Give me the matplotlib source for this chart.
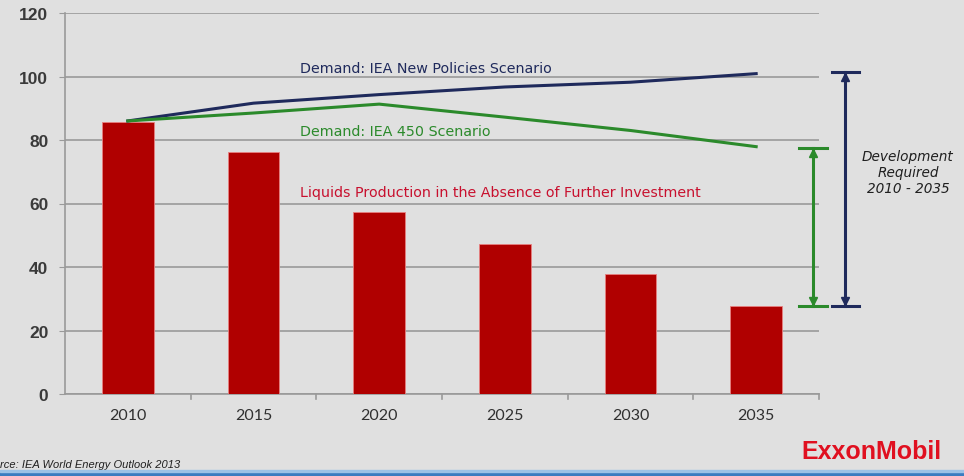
import matplotlib.pyplot as plt
from matplotlib.patches import Rectangle

years = ["2010", "2015", "2020", "2025", "2030", "2035"]
production = [85.7, 76.2, 57.3, 47.2, 37.8, 27.7]
demand_new_policies = [86.0, 91.6, 94.3, 96.7, 98.2, 100.9]
demand_450 = [86.0, 88.5, 91.3, 87.2, 83.0, 77.9]

bg = "#e0e0e0"
red = "#b00000"
navy = "#1f2a5c"
green = "#2b8a2b"

fig = plt.figure(figsize=(9.64, 4.77), dpi=100, facecolor=bg)
ax = fig.add_axes([65 / 964, (477 - 395) / 477, 754 / 964, 381 / 477], facecolor=bg)

x = range(len(years))
ax.bar(x, production, width=0.41, color=red, edgecolor="#e88080", linewidth=0.6, zorder=3)
ax.plot(x, demand_new_policies, color=navy, linewidth=2.2, zorder=4)
ax.plot(x, demand_450, color=green, linewidth=2.2, zorder=4)

ax.set_xlim(-0.5, 5.5)
ax.set_ylim(0, 120)
ax.set_yticks(range(0, 121, 20))
ax.set_xticks(list(x))
ax.set_xticklabels(years)
ax.yaxis.grid(True, color="#9a9a9a", linewidth=1.2, zorder=0)
ax.set_axisbelow(True)

for side in ["top", "right"]:
    ax.spines[side].set_visible(False)
ax.spines["left"].set_color("#9a9a9a")
ax.spines["bottom"].set_color("#9a9a9a")
ax.spines["left"].set_linewidth(1.2)
ax.spines["bottom"].set_linewidth(1.2)

ax.tick_params(axis="y", length=4, color="#9a9a9a", labelsize=12.5, labelcolor="#3a3a3a", pad=8)
ax.tick_params(axis="x", length=0, labelsize=11.5, labelcolor="#303030", pad=10)
for lbl in ax.get_yticklabels():
    lbl.set_fontweight("bold")
    lbl.set_family("Liberation Sans")
for lbl in ax.get_xticklabels():
    lbl.set_family("Lato")

# category boundary ticks below the x axis
for b in range(1, 7):
    ax.plot([b - 0.5, b - 0.5], [0, -1.6], color="#9a9a9a", linewidth=1.2, clip_on=False)

ax.text(1.37, 102.6, "Demand: IEA New Policies Scenario", color=navy, fontsize=10.3,
        family="DejaVu Sans", va="center")
ax.text(1.37, 82.8, "Demand: IEA 450 Scenario", color=green, fontsize=10.3,
        family="DejaVu Sans", va="center")
ax.text(1.37, 63.6, "Liquids Production in the Absence of Further Investment", color="#c8102e",
        fontsize=10.3, family="DejaVu Sans", va="center")


# development required brackets: vertical span with caps and inward arrowheads
def bracket(xpos, y0, y1, color):
    cap = 0.11
    kw = dict(color=color, linewidth=2.2, clip_on=False, zorder=5)
    ax.plot([xpos, xpos], [y0, y1], **kw)
    ax.plot([xpos - cap, xpos + cap], [y0, y0], **kw)
    ax.plot([xpos - cap, xpos + cap], [y1, y1], **kw)
    ax.plot([xpos], [y1 - 1.6], marker="^", markersize=6, color=color, clip_on=False, zorder=5)
    ax.plot([xpos], [y0 + 1.6], marker="v", markersize=6, color=color, clip_on=False, zorder=5)


bracket(5.45, production[-1], demand_450[-1] - 0.3, green)
bracket(5.71, production[-1], demand_new_policies[-1] + 0.5, navy)

fig.text(908 / 964, 1 - 173 / 477, "Development\nRequired\n2010 - 2035", ha="center", va="center",
         fontsize=9.8, style="italic", color="#202020", family="DejaVu Sans", linespacing=1.15)

fig.text(0.0, 1 - 465 / 477, "rce: IEA World Energy Outlook 2013", fontsize=8, style="italic",
         color="#202020", family="Liberation Sans", va="center")
fig.text(871 / 964, 1 - 452 / 477, "ExxonMobil", fontsize=18, fontweight="bold", color="#e01020",
         family="Liberation Sans", ha="center", va="center")

fig.patches.append(Rectangle((0, 0), 1, 4 / 477, transform=fig.transFigure, color="#3a7cc0", zorder=5))
fig.patches.append(Rectangle((0, 4 / 477), 1, 2 / 477, transform=fig.transFigure, color="#9cc2e6", zorder=5))

fig.savefig("out.png", dpi=100, facecolor=bg)
